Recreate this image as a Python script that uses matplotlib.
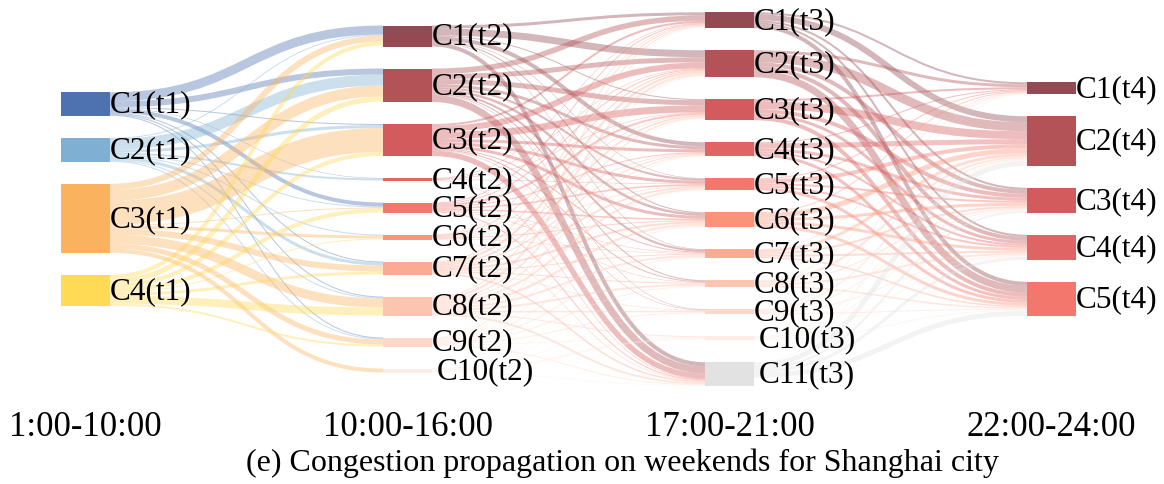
import matplotlib
matplotlib.use('Agg')
import matplotlib.pyplot as plt
from matplotlib.path import Path
from matplotlib.patches import PathPatch, Rectangle
import numpy as np

plt.rcParams['font.family'] = ['Liberation Serif', 'DejaVu Serif']

# Node names per time step
nodes_t1 = ['C1', 'C2', 'C3', 'C4']
nodes_t2 = ['C1', 'C2', 'C3', 'C4', 'C5', 'C6', 'C7', 'C8', 'C9', 'C10']
nodes_t3 = ['C1', 'C2', 'C3', 'C4', 'C5', 'C6', 'C7', 'C8', 'C9', 'C10', 'C11']
nodes_t4 = ['C1', 'C2', 'C3', 'C4', 'C5']

periods = ['1:00-10:00', '10:00-16:00', '17:00-21:00', '22:00-24:00']

# Flows t1 -> t2 (rows: t1 clusters, cols: t2 clusters)
flow_12 = [
    [9, 6, 1, 0.5, 4, 0, 1, 1, 1, 0],
    [1, 11, 3, 2, 1, 1, 3, 1, 1, 0],
    [6, 11, 24, 0, 1, 3, 6, 9, 5, 4],
    [4, 5, 4, 0, 4, 1, 3, 8, 2, 0],
]

# Flows t2 -> t3
flow_23 = [
    [3, 7, 1, 4, 0.5, 1, 0.5, 0, 0, 0, 4],
    [5.5, 5, 5, 3, 2, 2.5, 2, 1, 0.5, 0, 7],
    [2, 6, 7, 3, 3, 3, 1, 1, 0.5, 0, 5.5],
    [0.5, 0.5, 0.5, 0, 0.5, 0, 0, 0, 0, 0, 0.5],
    [1, 1, 2, 1, 1.5, 1.5, 0.5, 0.5, 0, 0, 1],
    [0.5, 1, 0.5, 0.5, 0.5, 1, 0.5, 0, 0, 0, 0.5],
    [1, 2, 1.5, 1, 1.5, 2, 1, 1, 0.5, 0, 1.5],
    [1, 2.5, 1.5, 1, 2, 2.5, 2, 2, 1.5, 1, 2],
    [0.5, 1, 0.5, 0.5, 0.5, 1, 1, 1, 1, 0.5, 1],
    [0, 0, 0, 0, 0, 0, 0.5, 0.5, 0.5, 2, 0.5],
]

# Flows t3 -> t4
flow_34 = [
    [2, 6, 2, 2, 4],
    [3, 9, 4, 4, 7],
    [2, 8, 4, 3, 4],
    [1, 5, 3, 2, 3],
    [1, 4, 2, 2, 3],
    [1, 5, 3, 3, 3],
    [0.5, 3, 2, 2, 1.5],
    [0.5, 2, 1, 2, 1.5],
    [0.5, 1.5, 1, 1, 1],
    [0, 1, 1, 1, 1],
    [0.5, 5, 2, 3, 5],
]

colors_t1 = ['#4e72b0', '#7fb0d3', '#fbb25e', '#ffda55']
colors_red = ['#934a52', '#b35257', '#d35a5d', '#e06464', '#f3776c',
              '#fa9479', '#fbab94', '#fdc4b0', '#fdd8ca', '#feebe3', '#e2e2e2']

# Layout (figure pixels)
W, H = 1164, 485
col_x = [61, 383, 705, 1027]
node_w = 49
pad = 22
center_y = 200
link_alpha = 0.4


def node_values(names, fin, fout):
    vals = []
    for i in range(len(names)):
        vin = sum(r[i] for r in fin) if fin is not None else 0
        vout = sum(fout[i]) if fout is not None else 0
        vals.append(max(vin, vout))
    return vals


columns = [nodes_t1, nodes_t2, nodes_t3, nodes_t4]
flows = [flow_12, flow_23, flow_34]
col_colors = [colors_t1, colors_red[:10], colors_red[:11], colors_red[:5]]

values = []
for c, names in enumerate(columns):
    fin = flows[c - 1] if c > 0 else None
    fout = flows[c] if c < len(flows) else None
    values.append(node_values(names, fin, fout))

# node tops, each column centred with constant padding
tops = []
for vals in values:
    total = sum(vals) + pad * (len(vals) - 1)
    y = center_y - total / 2
    t = []
    for v in vals:
        t.append(y)
        y += v + pad
    tops.append(t)

fig = plt.figure(figsize=(W / 100, H / 100), dpi=100)
ax = fig.add_axes([0, 0, 1, 1])
ax.set_xlim(0, W)
ax.set_ylim(H, 0)
ax.axis('off')

# links
for c, F in enumerate(flows):
    F = np.array(F, dtype=float)
    ns, nt = F.shape
    src_off = [0.0] * ns
    tgt_off = [0.0] * nt
    # source-side stacking ordered by target, target-side by source
    y_src = {}
    for i in range(ns):
        for j in range(nt):
            if F[i, j] > 0:
                y_src[(i, j)] = tops[c][i] + src_off[i] + F[i, j] / 2
                src_off[i] += F[i, j]
    y_tgt = {}
    for j in range(nt):
        for i in range(ns):
            if F[i, j] > 0:
                y_tgt[(i, j)] = tops[c + 1][j] + tgt_off[j] + F[i, j] / 2
                tgt_off[j] += F[i, j]
    x0 = col_x[c] + node_w
    x1 = col_x[c + 1]
    xm = (x0 + x1) / 2
    for (i, j), y0 in y_src.items():
        y1 = y_tgt[(i, j)]
        path = Path([(x0, y0), (xm, y0), (xm, y1), (x1, y1)],
                    [Path.MOVETO, Path.CURVE4, Path.CURVE4, Path.CURVE4])
        ax.add_patch(PathPatch(path, fill=False, edgecolor=col_colors[c][i],
                               alpha=link_alpha, lw=F[i, j] * 0.72,
                               capstyle='butt', zorder=1))

# nodes + labels
for c, names in enumerate(columns):
    for k, name in enumerate(names):
        ax.add_patch(Rectangle((col_x[c], tops[c][k]), node_w, values[c][k],
                               facecolor=col_colors[c][k], edgecolor='none', zorder=2))
        dx = 5 if name in ('C10', 'C11') else 0
        ax.text(col_x[c] + node_w + dx, tops[c][k] + values[c][k] / 2,
                '%s(t%d)' % (name, c + 1), fontsize=22.5,
                va='center', ha='left', zorder=3)

for c, p in enumerate(periods):
    ax.text(col_x[c] + node_w / 2, 428, p, fontsize=25, ha='center', va='center')

ax.text(622, 463, '(e) Congestion propagation on weekends for Shanghai city',
        fontsize=23, ha='center', va='center')

fig.savefig('out.png', dpi=100)
